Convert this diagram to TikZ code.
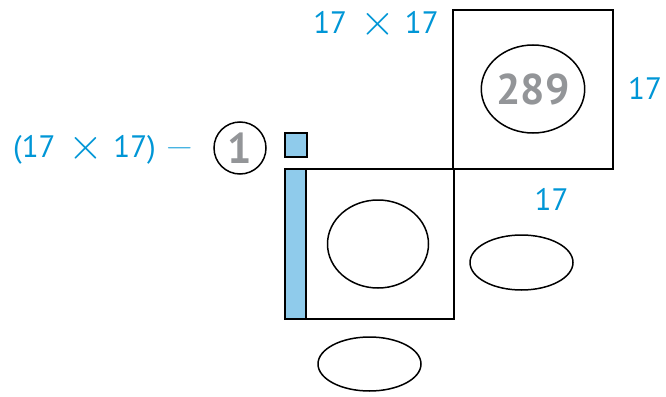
\documentclass[tikz,border=0pt]{standalone}
\usepackage{fontspec}
\setmainfont{PT Sans}
\usetikzlibrary{shapes.geometric}
\definecolor{lblblue}{HTML}{0096D6}
\definecolor{fillblue}{HTML}{8FCBEB}
\definecolor{numgray}{HTML}{939598}
\newcommand{\bigtimes}{\raisebox{-2pt}{\scalebox{1.8}{$\times$}}}
\newcommand{\bigminus}{\raisebox{2.5pt}{\scalebox{1.5}[1]{$-$}}}
\begin{document}
\begin{tikzpicture}[x=1pt,y=-1pt,
  box/.style={draw=black,line width=2.2pt,rectangle,inner sep=0pt,outer sep=0pt},
  oval/.style={draw=black,line width=1.5pt,ellipse,inner sep=0pt,outer sep=0pt},
  bluelbl/.style={text=lblblue,font=\fontsize{31}{31}\selectfont,inner sep=0pt,anchor=base},
  graynum/.style={text=numgray,font=\fontsize{43}{43}\selectfont\bfseries}]
\useasboundingbox (0,0) rectangle (666,396);
% top square
\node[box,minimum width=160pt,minimum height=159pt] (topsq) at (533,89.5) {};
% lower rectangle
\node[box,minimum width=169pt,minimum height=150pt] (lowrect) at (369.5,244) {};
% blue strip
\node[box,fill=fillblue,minimum width=21pt,minimum height=150pt] (strip) at (295.5,244) {};
% small blue square
\node[box,fill=fillblue,minimum width=22pt,minimum height=24pt] (smallsq) at (296,145) {};
% ellipses
\node[oval,minimum width=102pt,minimum height=88pt,graynum] (e289) at (533,89) {289};
\node[oval,minimum width=101pt,minimum height=88pt] (eL) at (378,244) {};
\node[oval,minimum width=103pt,minimum height=55pt] (eR) at (521.5,262.5) {};
\node[oval,minimum width=103pt,minimum height=54pt] (eB) at (369.5,364) {};
% circle with 1
\node[draw=black,line width=1.5pt,circle,minimum size=52pt,inner sep=0pt,graynum] (c1) at (240,148) {1};
% labels
\node[bluelbl] (ltop) at (376,33.3) {17\hspace{13pt}\bigtimes\hspace{10pt}17};
\node[bluelbl] (lright) at (645,99) {17};
\node[bluelbl] (lbelow) at (551.5,210) {17};
\node[bluelbl] (lleft) at (103.5,157) {(17\hspace{13pt}\bigtimes\hspace{10pt}17)\hspace{9pt}\bigminus};
\end{tikzpicture}
\end{document}
